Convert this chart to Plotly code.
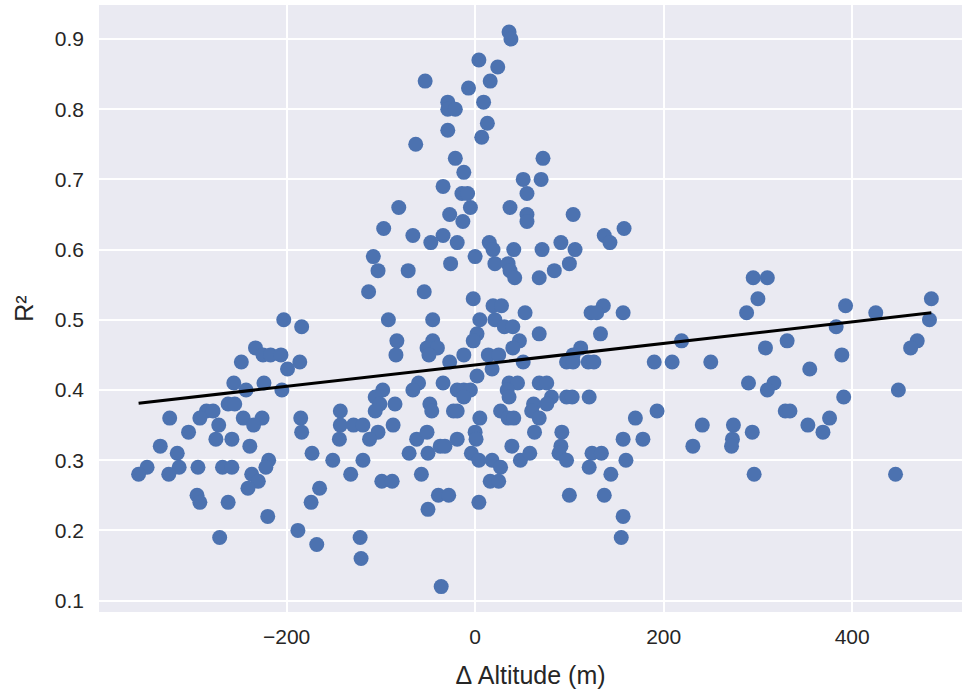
import numpy as np
import plotly.graph_objects as go

# Δ Altitude (m) values
delta_altitude = [
    36, 38, 4, 24, -53, 16, -7, -29, 9, -29, -21, 13, -29, 7, -63, -21, 72, -12, 51, 70,
    -34, -14, -8, 55, -81, -5, 37,
    55, 55, -27, 104, -13, -97, 158, -66, -34, 137, -47, -19, 15, 91, 143, 19, 41, 71, 106,
    -108, 0, -26, 21, 35, 100, -103, -71, 37, 84, 42, 68, -113, -54, -2, 19, 28, 136, 53,
    123, 129, 157, -92, -45, 5, 21, 31, 40, 2, 68, 133, -2, 47, -83, -45, 219, -51, -40, 40,
    112, -84, -49, -12, 14, 25, 104, -27, 51, 97, 104, 120, 126, 190, 209, 250, 18, 2, -60,
    -34, 36, 45, 68, 76, -98, -66, -19, -12, -5, 34, -106, -12, 36, 81, 97, 103, 121,
    -203, -184, -233, -225, -217, -206, -248, -186, -199, -256, -224, -243, -205, -262, -255,
    -285, -278, -324, -292, -246, -226, -272, -235, -304, -275, -258, -239, -334, -316, -185,
    -184, -173, -348, -357, -314, -325, -294, -268, -258, -219, -222, -237, -230, -241, -295,
    -292, -262, -220, -271, -165, -174, -188, -168,
    -101, -85, -48, -143, -106, -46, -23, -19, 5, 27, 35, 41, -143, -129, -119, -87, -103,
    -144, -112, -62, -51, -19, 0, 1, 39, -37, -32, -70, -50, -4, -151, -119, 4, 18, 27, 48,
    -132, -99, -88, -57, 16, 25, -39, -28, 4, -50, -122, -121, -36,
    62, 60, 68, 76, 193, 170, 63, 92, 157, 178, 91, 58, 89, 124, 134, 97, 160, 121, 144, 100,
    137, 157, 155, 241, 274, 231, 273, 272,
    294, 329, 334, 353, 369, 376, 391, 296, 446, 295, 310, 300, 288, 393, 425, 484, 482, 383,
    308, 331, 469, 462, 389, 355, 290, 317, 310, 449,
]

# R² values
r_squared = [
    0.91, 0.90, 0.87, 0.86, 0.84, 0.84, 0.83, 0.81, 0.81, 0.80, 0.80, 0.78, 0.77, 0.76, 0.75,
    0.73, 0.73, 0.71, 0.70, 0.70, 0.69, 0.68, 0.68, 0.68, 0.66, 0.66, 0.66,
    0.65, 0.64, 0.65, 0.65, 0.64, 0.63, 0.63, 0.62, 0.62, 0.62, 0.61, 0.61, 0.61, 0.61, 0.61,
    0.60, 0.60, 0.60, 0.60, 0.59, 0.59, 0.58, 0.58, 0.58, 0.58, 0.57, 0.57, 0.57, 0.57, 0.56,
    0.56, 0.54, 0.54, 0.53, 0.52, 0.52, 0.52, 0.51, 0.51, 0.51, 0.51, 0.50, 0.50, 0.50, 0.50,
    0.49, 0.49, 0.48, 0.48, 0.48, 0.47, 0.47, 0.47, 0.47, 0.47, 0.46, 0.46, 0.46, 0.46, 0.45,
    0.45, 0.45, 0.45, 0.45, 0.45, 0.44, 0.44, 0.44, 0.44, 0.44, 0.44, 0.44, 0.44, 0.44, 0.43,
    0.42, 0.41, 0.41, 0.41, 0.41, 0.41, 0.41, 0.40, 0.40, 0.40, 0.40, 0.40, 0.40, 0.39, 0.39,
    0.39, 0.39, 0.39, 0.39, 0.39,
    0.50, 0.49, 0.46, 0.45, 0.45, 0.45, 0.44, 0.44, 0.43, 0.41, 0.41, 0.40, 0.40, 0.38, 0.38,
    0.37, 0.37, 0.36, 0.36, 0.36, 0.36, 0.35, 0.35, 0.34, 0.33, 0.33, 0.32, 0.32, 0.31, 0.36,
    0.34, 0.31, 0.29, 0.28, 0.29, 0.28, 0.29, 0.29, 0.29, 0.30, 0.29, 0.28, 0.27, 0.26, 0.25,
    0.24, 0.24, 0.22, 0.19, 0.26, 0.24, 0.20, 0.18,
    0.38, 0.38, 0.38, 0.37, 0.37, 0.37, 0.37, 0.37, 0.36, 0.37, 0.36, 0.36, 0.35, 0.35, 0.35,
    0.35, 0.34, 0.33, 0.33, 0.33, 0.34, 0.33, 0.34, 0.33, 0.32, 0.32, 0.32, 0.31, 0.31, 0.31,
    0.30, 0.30, 0.30, 0.30, 0.29, 0.30, 0.28, 0.27, 0.27, 0.28, 0.27, 0.27, 0.25, 0.25, 0.24,
    0.23, 0.19, 0.16, 0.12,
    0.38, 0.37, 0.36, 0.38, 0.37, 0.36, 0.34, 0.34, 0.33, 0.33, 0.32, 0.31, 0.31, 0.31, 0.31,
    0.30, 0.30, 0.29, 0.28, 0.25, 0.25, 0.22, 0.19, 0.35, 0.35, 0.32, 0.33, 0.32,
    0.34, 0.37, 0.37, 0.35, 0.34, 0.36, 0.39, 0.28, 0.28, 0.56, 0.56, 0.53, 0.51, 0.52, 0.51,
    0.53, 0.50, 0.49, 0.46, 0.47, 0.47, 0.46, 0.45, 0.43, 0.41, 0.41, 0.40, 0.40,
]

x_ticks = [-200, 0, 200, 400]
y_ticks = [0.1, 0.2, 0.3, 0.4, 0.5, 0.6, 0.7, 0.8, 0.9]

x = np.array(delta_altitude, dtype=float)
y = np.array(r_squared, dtype=float)
slope, intercept = np.polyfit(x, y, 1)
line_x = np.array([x.min(), x.max()])
line_y = slope * line_x + intercept

fig = go.Figure()
fig.add_trace(go.Scatter(
    x=x, y=y, mode="markers",
    marker=dict(color="#4C72B0", size=15, line=dict(width=0)),
    showlegend=False, hoverinfo="skip",
))
fig.add_trace(go.Scatter(
    x=line_x, y=line_y, mode="lines",
    line=dict(color="black", width=3),
    showlegend=False, hoverinfo="skip",
))

font_family = "Arial, Liberation Sans, DejaVu Sans, sans-serif"
fig.update_layout(
    width=963, height=692,
    margin=dict(l=99, r=1, t=5, b=80),
    paper_bgcolor="white",
    plot_bgcolor="#EAEAF2",
    font=dict(family=font_family, size=21, color="#262626"),
    xaxis=dict(
        range=[-399, 516.5],
        tickvals=x_ticks,
        showgrid=True, gridcolor="white", gridwidth=2,
        zeroline=False, showline=False, ticks="",
        ticklabelstandoff=10,
        automargin=False,
        title=dict(text="Δ Altitude (m)", standoff=19, font=dict(size=25)),
    ),
    yaxis=dict(
        range=[0.0838, 0.9484],
        tickvals=y_ticks, tickformat=".1f",
        showgrid=True, gridcolor="white", gridwidth=2,
        zeroline=False, showline=False, ticks="",
        ticklabelstandoff=14,
        automargin=False,
        title=dict(text="R²", standoff=14, font=dict(size=25)),
    ),
)

fig.write_html(
    "out.html",
    config={"displayModeBar": False},
    post_script="document.body.style.margin='0';document.body.style.padding='0';",
)
